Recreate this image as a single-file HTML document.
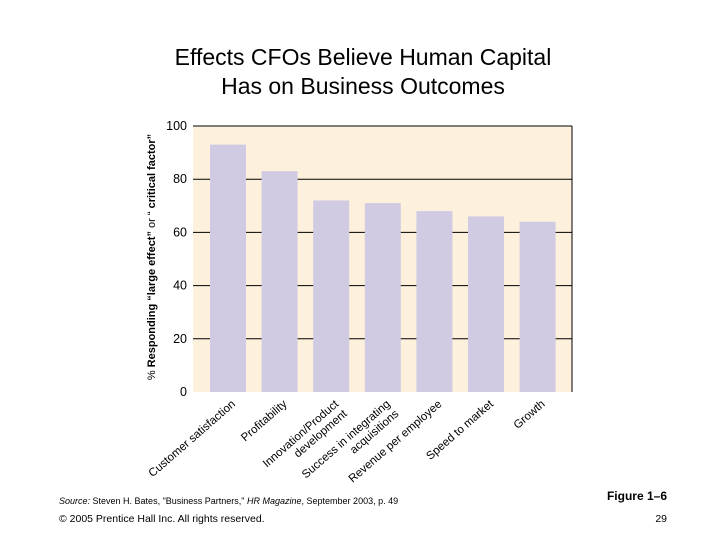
<!DOCTYPE html>
<html><head><meta charset="utf-8"><style>
body{margin:0;background:#fff;}
svg{display:block;font-family:"Liberation Sans",Arial,sans-serif;}
</style></head><body>
<svg width="720" height="540" viewBox="0 0 720 540">
<text x="363" y="65" text-anchor="middle" font-size="23" fill="#000">Effects CFOs Believe Human Capital</text>
<text x="363" y="94" text-anchor="middle" font-size="23" fill="#000">Has on Business Outcomes</text>
<g id="chart"></g>
<text x="59" y="504" font-size="9" fill="#000"><tspan font-style="italic">Source:</tspan> Steven H. Bates, "Business Partners," <tspan font-style="italic">HR Magazine</tspan>, September 2003, p. 49</text>
<text x="59" y="522" font-size="10.5" fill="#000">© 2005 Prentice Hall Inc. All rights reserved.</text>
<text x="667" y="500" text-anchor="end" font-size="12" font-weight="bold" fill="#000">Figure 1–6</text>
<text x="667" y="522" text-anchor="end" font-size="10.5" fill="#000">29</text>
</svg>
<script>
const categories = [["Customer satisfaction"],["Profitability"],["Innovation/Product","development"],["Success in integrating","acquisitions"],["Revenue per employee"],["Speed to market"],["Growth"]];
const values = [93, 83, 72, 71, 68, 66, 64];
const yTicks = [0, 20, 40, 60, 80, 100];

const NS = "http://www.w3.org/2000/svg";
const g = document.getElementById("chart");
const x0 = 193, x1 = 572, yTop = 126, yBot = 392;
const yMax = 100;
function y(v){ return yBot - (v / yMax) * (yBot - yTop); }
const pitch = 51.6, barW = 36, firstLeft = 210;
function bx(i){ return firstLeft + i * pitch; }
function mk(tag, attrs){ const e = document.createElementNS(NS, tag); for (const k in attrs) e.setAttribute(k, attrs[k]); g.appendChild(e); return e; }

const bg = mk("rect", {x: x0, y: yTop, width: x1 - x0, height: yBot - yTop, fill: "#fdf0dc"});



yTicks.forEach(t => {
  if (t > 0) {
    const l = mk("line", {x1: x0, x2: x1, y1: y(t), y2: y(t), stroke: "#000", "stroke-width": 1});
    
    
  }
  const tx = mk("text", {x: 187, y: y(t) + 4, "text-anchor": "end", "font-size": 12.5, fill: "#000"});
  tx.textContent = t;
  
  
});
const rb = mk("line", {x1: x1, x2: x1, y1: yTop, y2: yBot, stroke: "#000", "stroke-width": 1});



values.forEach((v, i) => {
  const r = mk("rect", {x: bx(i), y: y(v), width: barW, height: yBot - y(v), fill: "#d0cae2"});
  
  
  const cx = bx(i) + barW / 2 + 8, cy = 405;
  categories[i].forEach((line, j) => {
    const t = mk("text", {x: 0, y: j * 13, "text-anchor": "end", "font-size": 11.5, fill: "#000",
      transform: "translate(" + cx + "," + cy + ") rotate(-41)"});
    t.textContent = line;
    
    
  });
});

const yt = mk("text", {x: 0, y: 0, "text-anchor": "middle", "font-size": 11, fill: "#000",
  transform: "translate(155,257) rotate(-90)"});
yt.innerHTML = '% <tspan font-weight="bold">Responding “large effect”</tspan> or “ <tspan font-weight="bold">critical factor”</tspan>';


</script>
</body></html>
